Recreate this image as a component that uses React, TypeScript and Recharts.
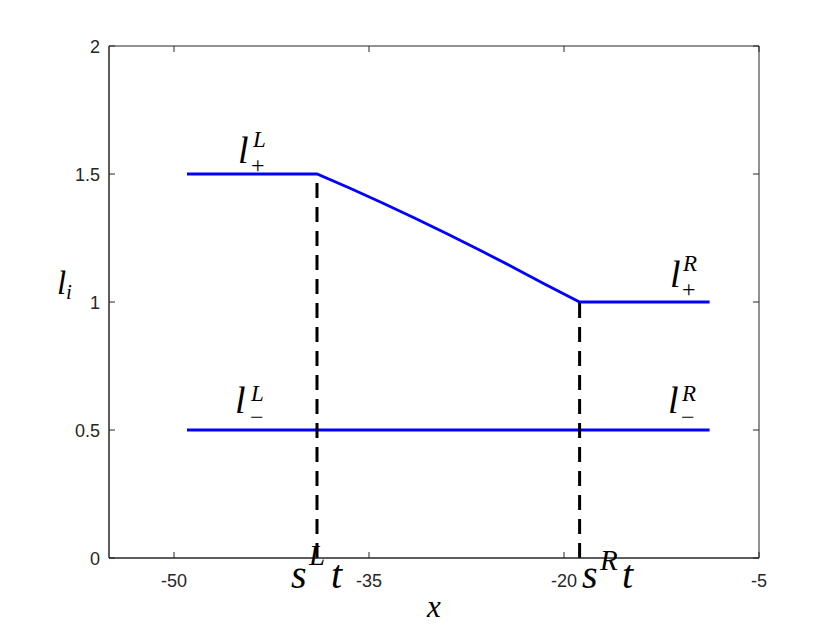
import React from 'react';
import { LineChart, Line, XAxis, YAxis, ReferenceArea } from 'recharts';

// ---- data ----
const xTicks = [-50, -35, -20, -5];
const yTicks = [0, 0.5, 1, 1.5, 2];
const xDomain = [-55, -5];
const yDomain = [0, 2];

const upperX = [-49, -39, -36.5, -34, -31.5, -29, -26.5, -24, -21.5, -18.8, -8.8];
const upperY = [1.5, 1.5, 1.445, 1.388, 1.328, 1.267, 1.203, 1.138, 1.07, 1.0, 1.0];
const lowerX = [-49, -8.8];
const lowerY = [0.5, 0.5];
const shockLX = [-39, -39];
const shockLY = [0, 1.5];
const shockRX = [-18.8, -18.8];
const shockRY = [0, 1.0];

const toPts = (xs: number[], ys: number[]) => xs.map((x, i) => ({ x, y: ys[i] }));
const upperData = toPts(upperX, upperY);
const lowerData = toPts(lowerX, lowerY);
const shockLData = toPts(shockLX, shockLY);
const shockRData = toPts(shockRX, shockRY);

// ---- layout ----
const W = 840;
const H = 630;
const PLOT_W = 650;
const PLOT_H = 512;
const AX = '#262626';
const SANS = "'Liberation Sans', Arial, Helvetica, sans-serif";
const SERIF = "'Liberation Serif', 'DejaVu Serif', serif";
const TICK_FS = 18;
const TL = 6;

const serifStyle: React.CSSProperties = { fontFamily: SERIF, fontStyle: 'italic' };

const XTick = (props: any) => {
  const { x, y, payload } = props;
  return (
    <g>
      <line x1={x} x2={x} y1={y} y2={y - TL} stroke={AX} strokeWidth={1} />
      <line x1={x} x2={x} y1={y - PLOT_H} y2={y - PLOT_H + TL} stroke={AX} strokeWidth={1} />
      <text x={x} y={y + 29} textAnchor="middle" style={{ fontFamily: SANS, fontSize: TICK_FS }} fill={AX}>
        {payload.value}
      </text>
    </g>
  );
};

const YTick = (props: any) => {
  const { x, y, payload } = props;
  return (
    <g>
      <line x1={x} x2={x + TL} y1={y} y2={y} stroke={AX} strokeWidth={1} />
      <line x1={x + PLOT_W} x2={x + PLOT_W - TL} y1={y} y2={y} stroke={AX} strokeWidth={1} />
      <text x={x - 9} y={y + 6.5} textAnchor="end" style={{ fontFamily: SANS, fontSize: TICK_FS }} fill={AX}>
        {payload.value}
      </text>
    </g>
  );
};

const Lab = ({ x, y, sup, sub, supDx, subDx, supDy, subDy }: any) => (
  <g fill="#000">
    <text x={x} y={y} style={{ ...serifStyle, fontSize: 38 }}>l</text>
    <text x={x + supDx} y={y + supDy} style={{ ...serifStyle, fontSize: 23 }}>{sup}</text>
    <text x={x + subDx} y={y + subDy} style={{ fontFamily: SERIF, fontSize: 24 }}>{sub}</text>
  </g>
);

export default function App() {
  return (
    <div style={{ position: 'absolute', left: 0, top: 0, width: W, height: H, background: '#fff' }}>
      <LineChart width={W} height={H} margin={{ top: 46, right: 81, bottom: 42, left: 49 }}>
        <XAxis
          dataKey="x"
          type="number"
          domain={xDomain}
          ticks={xTicks}
          interval={0}
          allowDataOverflow
          tickSize={0}
          tickMargin={0}
          tickLine={false}
          height={30}
          axisLine={{ stroke: AX }}
          tick={<XTick />}
        />
        <YAxis
          dataKey="y"
          type="number"
          domain={yDomain}
          ticks={yTicks}
          interval={0}
          allowDataOverflow
          tickSize={0}
          tickMargin={0}
          tickLine={false}
          width={60}
          axisLine={{ stroke: AX }}
          tick={<YTick />}
        />
        <ReferenceArea x1={-55} x2={-5} y1={0} y2={2} fill="none" stroke={AX} strokeWidth={1} />
        <Line data={upperData} dataKey="y" type="linear" stroke="#0000ff" strokeWidth={2.8} dot={false} activeDot={false} isAnimationActive={false} />
        <Line data={lowerData} dataKey="y" type="linear" stroke="#0000ff" strokeWidth={2.8} dot={false} activeDot={false} isAnimationActive={false} />
        <Line data={shockLData} dataKey="y" type="linear" stroke="#000" strokeWidth={3} strokeDasharray="15 9" dot={false} activeDot={false} isAnimationActive={false} />
        <Line data={shockRData} dataKey="y" type="linear" stroke="#000" strokeWidth={3} strokeDasharray="15 9" dot={false} activeDot={false} isAnimationActive={false} />
      </LineChart>
      <svg width={W} height={H} style={{ position: 'absolute', left: 0, top: 0, pointerEvents: 'none' }}>
        <Lab x={238} y={163} sup="L" sub="+" supDx={15} supDy={-16} subDx={13} subDy={10} />
        <Lab x={670} y={287} sup="R" sub="+" supDx={13} supDy={-16} subDx={12} subDy={10} />
        <Lab x={235} y={413} sup="L" sub="−" supDx={16} supDy={-12} subDx={15} subDy={12} />
        <Lab x={668} y={413} sup="R" sub="−" supDx={14} supDy={-12} subDx={13} subDy={12} />
        <g fill="#000">
          <text x={57} y={294} style={{ ...serifStyle, fontSize: 33 }}>l</text>
          <text x={66} y={299} style={{ ...serifStyle, fontSize: 21 }}>i</text>
          <text x={427} y={617} style={{ ...serifStyle, fontSize: 31 }}>x</text>
          <text x={291} y={588} style={{ ...serifStyle, fontSize: 40 }}>s</text>
          <text x={309} y={565} style={{ ...serifStyle, fontSize: 29 }}>L</text>
          <text x={331} y={588} style={{ ...serifStyle, fontSize: 40 }}>t</text>
          <text x={582} y={588} style={{ ...serifStyle, fontSize: 40 }}>s</text>
          <text x={600} y={570} style={{ ...serifStyle, fontSize: 29 }}>R</text>
          <text x={622} y={588} style={{ ...serifStyle, fontSize: 40 }}>t</text>
        </g>
      </svg>
    </div>
  );
}
